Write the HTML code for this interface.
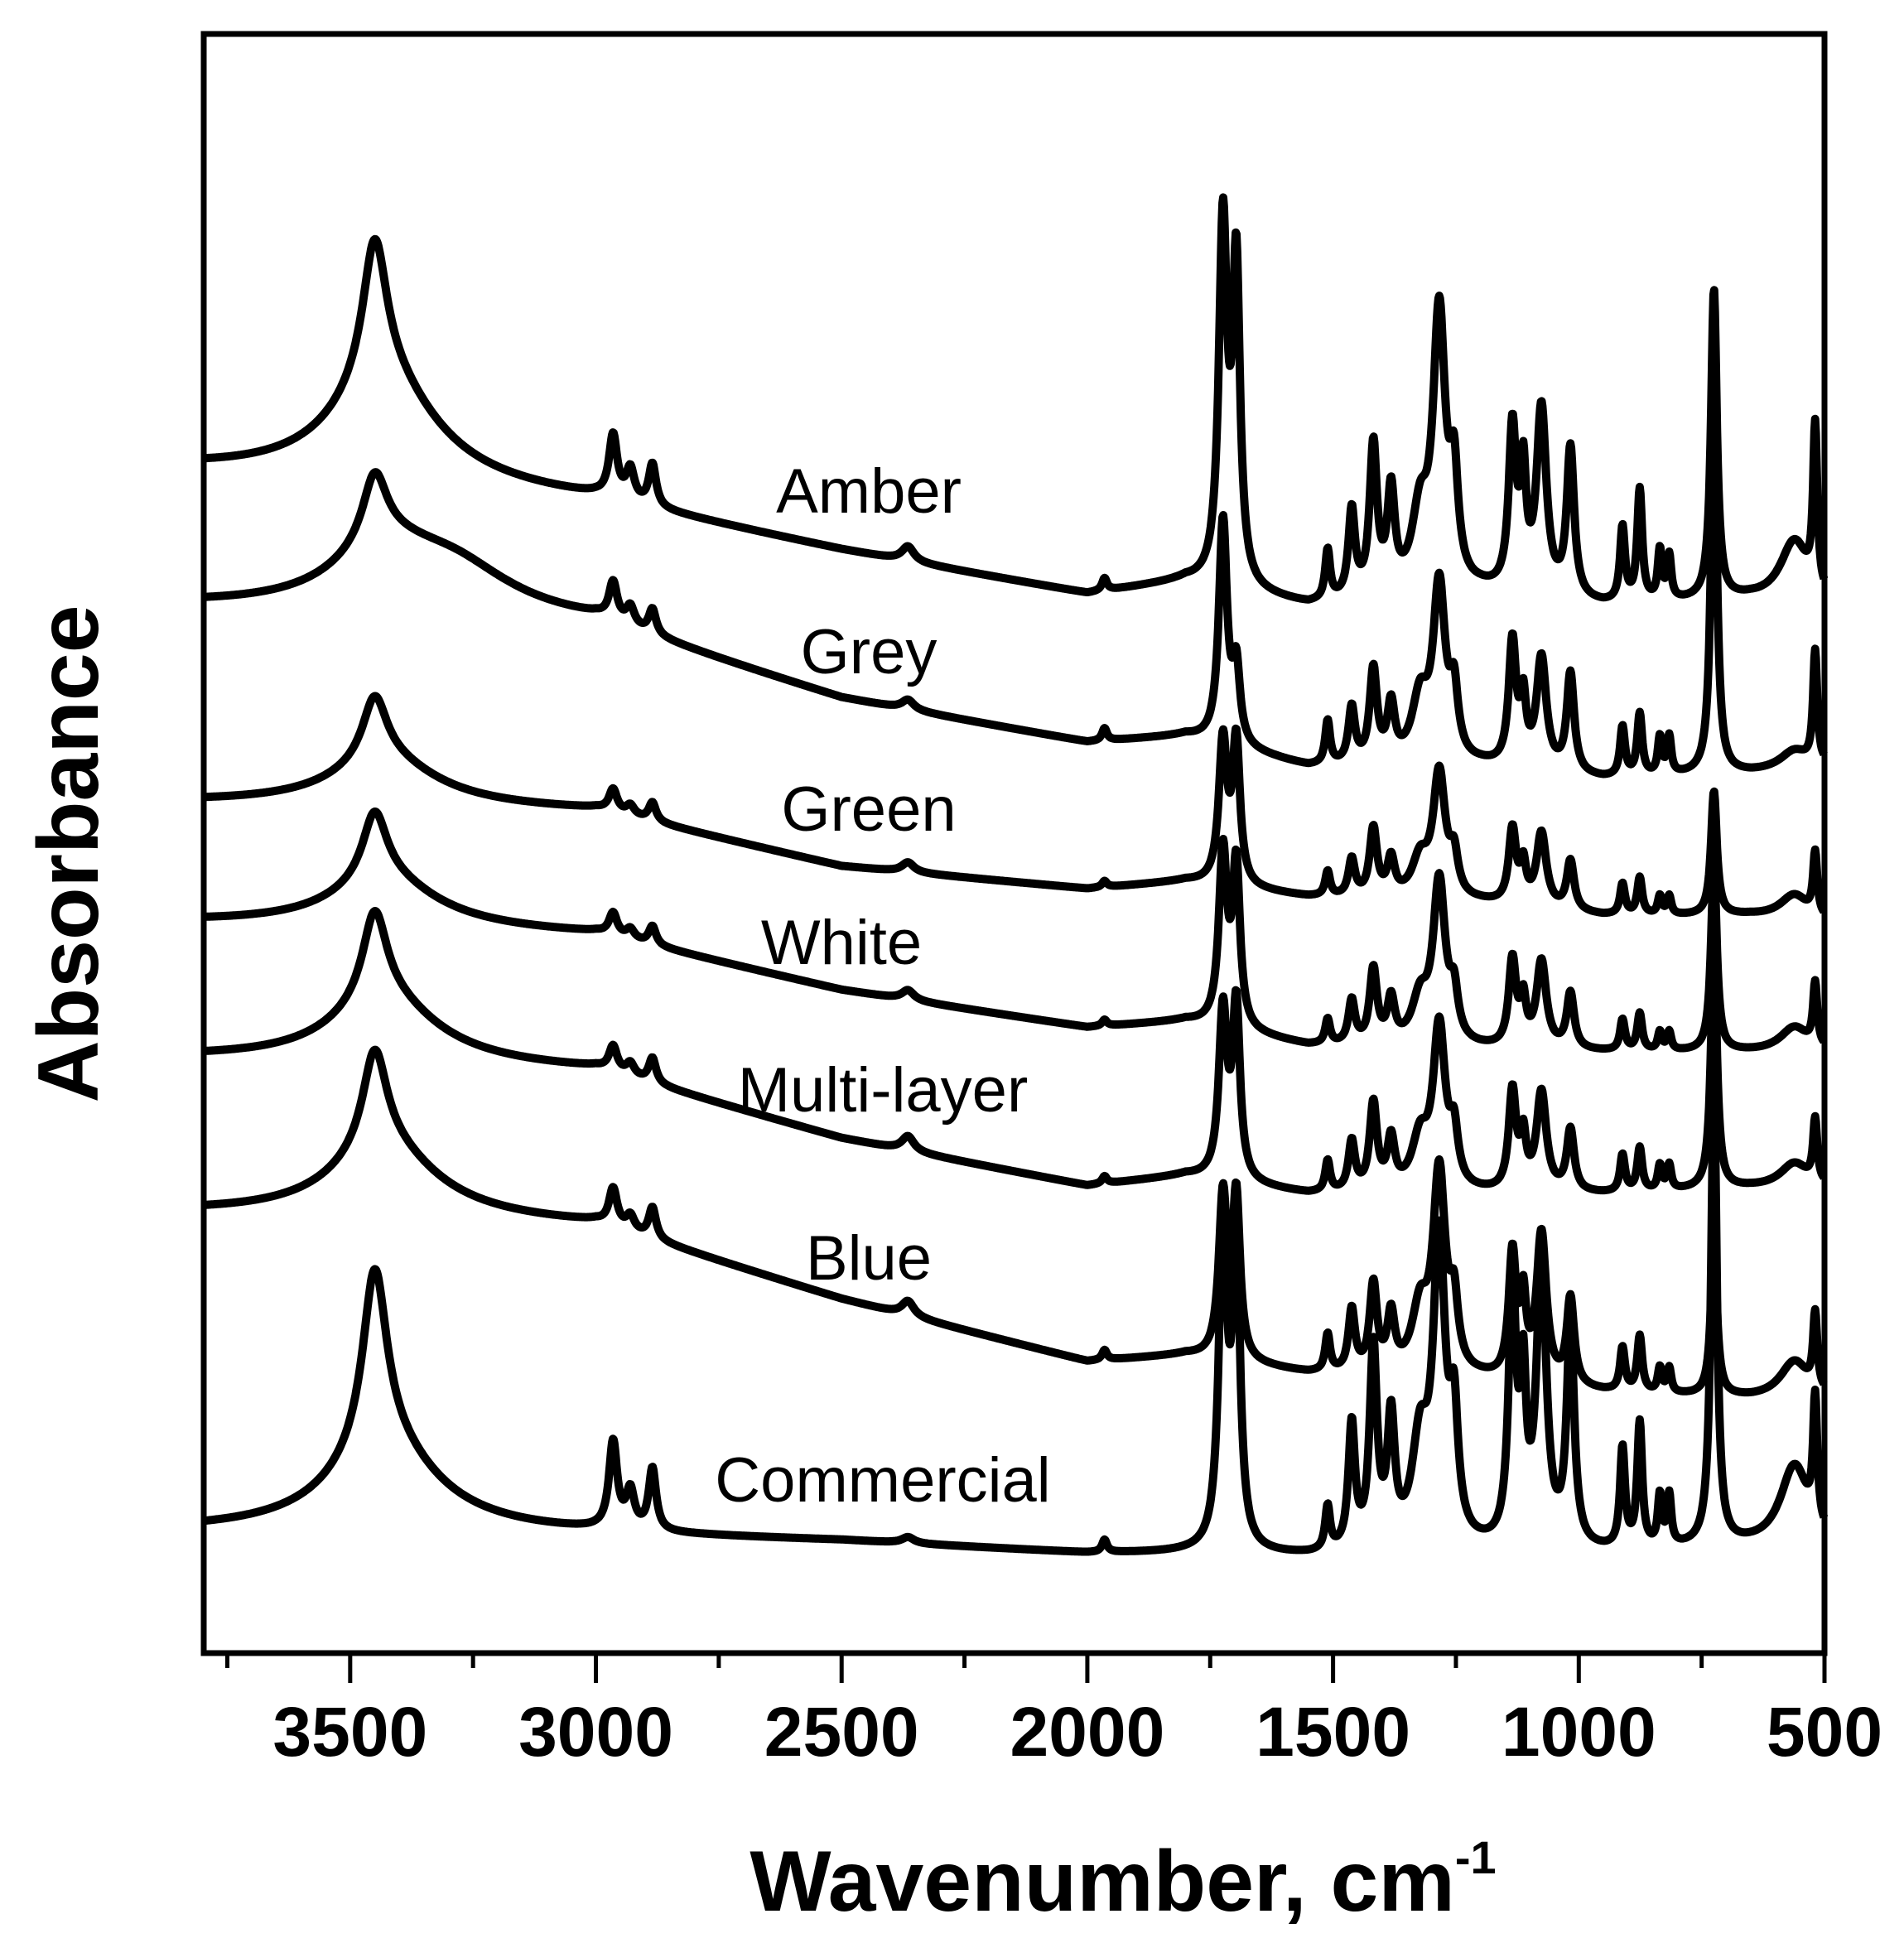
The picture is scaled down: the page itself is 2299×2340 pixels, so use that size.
<!DOCTYPE html>
<html><head><meta charset="utf-8"><style>
html,body{margin:0;padding:0;background:#fff;}
svg{display:block;}
</style></head><body>
<svg id="chart" xmlns="http://www.w3.org/2000/svg" width="2299" height="2340" viewBox="0 0 2299 2340">
<rect x="0" y="0" width="2299" height="2340" fill="#fff"/>
<g id="series"></g>
<rect x="246" y="41" width="1957" height="1955" fill="none" stroke="#000" stroke-width="7"/>
<g id="ticks"></g>
<g id="labels"></g>
<text x="1356" y="2307" text-anchor="middle" font-family="Liberation Sans, sans-serif" font-weight="bold" font-size="104">Wavenumber, cm<tspan dy="-45" font-size="56">-1</tspan></text>
<text transform="translate(118,1031) rotate(-90)" text-anchor="middle" font-family="Liberation Sans, sans-serif" font-weight="bold" font-size="104">Absorbance</text>
</svg>
<script>
// ---- data ----
const seriesNames = ["Amber","Grey","Green","White","Multi-layer","Blue","Commercial"];
const peakPos = [3450,2965,2930,2885,2365,1965,1724,1697,1511,1462,1418,1382,1323,1284,1254,1135,1113,1076,1017,911,876,835,816,725,561,519,3290,3430];
const peakWidth = [30,10,10,9,15,6,10,9,6,8,9,9,20,15,10,9,7,12,9,6,6,5,5,7,35,5,150,130];
const baseKnots = [3800,3000,2500,2000,1800,1550,1200,950,650,500];
const baseAmber = [9.55,9.30,8.90,8.55,8.65,8.45,8.55,8.45,8.50,8.45];
const baseGrey = [8.45,8.30,7.70,7.35,7.40,7.15,7.15,7.05,7.10,7.15];
const baseGreen = [6.87,6.80,6.35,6.17,6.23,6.10,6.05,5.95,5.95,5.90];
const baseWhite = [5.90,5.80,5.35,5.05,5.10,4.90,4.87,4.85,4.85,4.85];
const baseMulti = [4.80,4.70,4.15,3.77,3.85,3.70,3.70,3.70,3.75,3.75];
const baseBlue = [3.55,3.45,2.85,2.35,2.40,2.25,2.20,2.10,2.05,2.05];
const baseCommercial = [0.98,0.95,0.90,0.80,0.80,0.77,0.80,0.80,0.85,0.85];
const ampAmber = [1.15,0.5,0.25,0.34,0.12,0.1,2.9,2.55,0.4,0.7,1.2,0.8,0.6,2.2,0.8,1.3,0.9,1.5,1.2,0.6,0.9,0.4,0.35,2.5,0.5,1.3,0,0.85];
const ampGrey = [0.55,0.3,0.15,0.2,0.08,0.1,1.8,0.6,0.35,0.45,0.75,0.45,0.5,1.4,0.5,1.0,0.5,0.9,0.8,0.4,0.5,0.3,0.3,3.1,0.15,0.9,0.35,0.45];
const ampGreen = [0.52,0.18,0.08,0.15,0.08,0.05,1.15,1.15,0.2,0.3,0.55,0.3,0.3,1.0,0.3,0.6,0.3,0.6,0.4,0.25,0.3,0.15,0.15,1.0,0.2,0.5,0,0.38];
const ampWhite = [0.55,0.18,0.08,0.15,0.08,0.05,1.4,1.3,0.2,0.35,0.6,0.35,0.35,1.3,0.35,0.7,0.35,0.7,0.45,0.25,0.3,0.15,0.15,1.5,0.2,0.5,0,0.4];
const ampMulti = [0.72,0.2,0.1,0.2,0.12,0.06,1.35,1.4,0.25,0.4,0.7,0.4,0.4,1.3,0.4,0.8,0.4,0.8,0.5,0.3,0.35,0.2,0.2,2.0,0.2,0.5,0,0.53];
const ampBlue = [0.8,0.3,0.12,0.25,0.12,0.08,1.3,1.3,0.3,0.5,0.7,0.45,0.5,1.6,0.5,1.0,0.6,1.2,0.7,0.35,0.45,0.2,0.2,1.3,0.3,0.6,0,0.58];
const ampCommercial = [1.45,0.7,0.3,0.5,0.05,0.1,2.6,2.5,0.35,1.0,1.6,1.0,0.8,2.4,0.9,2.1,1.2,2.3,1.8,0.8,1.0,0.4,0.4,3.7,0.65,1.0,0,0.7];
const labelX = [1049,1049,1049,1016,1066,1049,1066];
const labelY = [592,786,976,1137,1315,1518,1786];
const tickMajor = [3500,3000,2500,2000,1500,1000,500];
const tickMinor = [3750,3250,2750,2250,1750,1250,750];
const tickLabels = ["3500","3000","2500","2000","1500","1000","500"];

// ---- axes ----
const NS="http://www.w3.org/2000/svg";
const X0=246,X1=2203,Y0=1996,Y1=41;
const WN_L=3798,WN_R=500,V_MAX=13.08;
function xs(w){return X0+(WN_L-w)/(WN_L-WN_R)*(X1-X0);}
function ys(v){return Y0-v/V_MAX*(Y0-Y1);}

const bases=[baseAmber,baseGrey,baseGreen,baseWhite,baseMulti,baseBlue,baseCommercial];
const amps=[ampAmber,ampGrey,ampGreen,ampWhite,ampMulti,ampBlue,ampCommercial];
function baseAt(b,w){
  for(let i=0;i<baseKnots.length-1;i++){
    const a=baseKnots[i],c=baseKnots[i+1];
    if(w<=a&&w>=c){const t=(a-w)/(a-c);return b[i]+(b[i+1]-b[i])*t;}
  }
  return w>baseKnots[0]?b[0]:b[b.length-1];
}
function valAt(k,w){
  let v=baseAt(bases[k],w);
  const A=amps[k];
  for(let j=0;j<peakPos.length;j++){const d=(w-peakPos[j])/peakWidth[j];v+=A[j]/(1+d*d);}
  return v;
}
const sg=document.getElementById('series');
for(let k=0;k<seriesNames.length;k++){
  let d="";
  for(let w=WN_L;w>=WN_R;w-=1.5){d+=(d?"L":"M")+xs(w).toFixed(1)+","+ys(valAt(k,w)).toFixed(1);}
  const p=document.createElementNS(NS,'path');
  p.setAttribute('d',d);p.setAttribute('fill','none');p.setAttribute('stroke','#000');
  p.setAttribute('stroke-width','10');p.setAttribute('stroke-linejoin','round');
  
  
  sg.appendChild(p);
  const t=document.createElementNS(NS,'text');
  t.setAttribute('x',labelX[k]);
  t.setAttribute('y',labelY[k]+27);
  t.setAttribute('text-anchor','middle');
  t.setAttribute('font-family','Liberation Sans, sans-serif');
  t.setAttribute('font-size','76');
  t.textContent=seriesNames[k];
  
  
  document.getElementById('labels').appendChild(t);
}
const tg=document.getElementById('ticks');
tickMajor.forEach((w,i)=>{
  const l=document.createElementNS(NS,'line');
  l.setAttribute('x1',xs(w));l.setAttribute('x2',xs(w));l.setAttribute('y1',Y0);l.setAttribute('y2',Y0+36);
  l.setAttribute('stroke','#000');l.setAttribute('stroke-width','5');
  
  
  tg.appendChild(l);
  const t=document.createElementNS(NS,'text');
  t.setAttribute('x',xs(w));t.setAttribute('y',2120);t.setAttribute('text-anchor','middle');
  t.setAttribute('font-family','Liberation Sans, sans-serif');t.setAttribute('font-weight','bold');t.setAttribute('font-size','84');
  t.textContent=tickLabels[i];
  
  
  tg.appendChild(t);
});
tickMinor.forEach(w=>{
  const l=document.createElementNS(NS,'line');
  l.setAttribute('x1',xs(w));l.setAttribute('x2',xs(w));l.setAttribute('y1',Y0);l.setAttribute('y2',Y0+18);
  l.setAttribute('stroke','#000');l.setAttribute('stroke-width','5');
  
  
  tg.appendChild(l);
});
</script>
</body></html>
